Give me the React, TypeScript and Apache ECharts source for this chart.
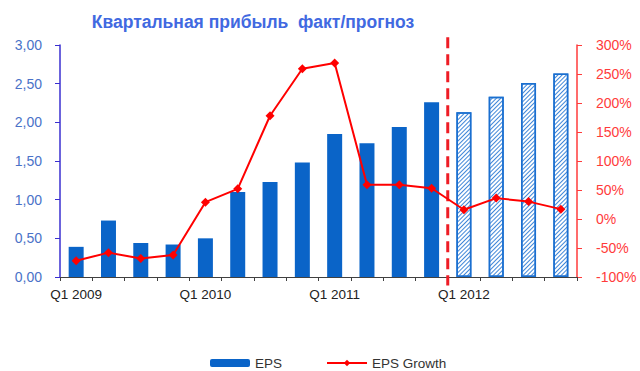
import React, { useEffect, useRef } from "react";
import * as echarts from "echarts";

const categories = [
  "Q1 2009", "Q2 2009", "Q3 2009", "Q4 2009",
  "Q1 2010", "Q2 2010", "Q3 2010", "Q4 2010",
  "Q1 2011", "Q2 2011", "Q3 2011", "Q4 2011",
  "Q1 2012", "Q2 2012", "Q3 2012", "Q4 2012",
];
const epsValues = [0.39, 0.73, 0.44, 0.42, 0.5, 1.1, 1.23, 1.48, 1.85, 1.73, 1.94, 2.26, 2.13, 2.33, 2.51, 2.63];
const epsGrowth = [-72, -58, -68, -62, 29, 52, 178, 259, 269, 59, 59, 53, 16, 36, 30, 17];
const isForecast = [false, false, false, false, false, false, false, false, false, false, false, false, true, true, true, true];
const forecastStart = 12; // index of first forecast quarter
const titleText = "Квартальная прибыль  факт/прогноз";

const FONT = "'Liberation Sans', Arial, sans-serif";

export default function App() {
  const ref = useRef<HTMLDivElement>(null);
  useEffect(() => {
    if (!ref.current) return;
    const chart = echarts.init(ref.current, null, { renderer: "svg" });
    const barData = epsValues.map((v, i) =>
      isForecast[i]
        ? {
            value: v,
            itemStyle: {
              color: "#ffffff",
              borderColor: "#1a6fd0",
              borderWidth: 1.5,
              decal: {
                symbol: "rect",
                symbolSize: 1,
                color: "#3f86d8",
                dashArrayX: [1, 0],
                dashArrayY: [1, 2],
                rotation: -Math.PI / 4,
              },
            },
          }
        : { value: v }
    );
    chart.setOption({
      animation: false,
      textStyle: { fontFamily: FONT },
      title: {
        text: titleText,
        left: 248,
        textAlign: "center",
        top: 8,
        textStyle: { color: "#4169e1", fontSize: 17.5, fontWeight: "bold", fontFamily: FONT },
      },
      grid: { left: 60, right: 63, top: 45, bottom: 94 },
      legend: {
        left: 205,
        top: 351,
        itemWidth: 40,
        itemHeight: 8,
        itemGap: 44,
        textStyle: { color: "#333", fontSize: 13.5, fontFamily: FONT },
        data: ["EPS", "EPS Growth"],
      },
      xAxis: [
        {
          type: "category",
          data: categories,
          axisLine: { lineStyle: { color: "#404040", width: 1 } },
          axisTick: { show: true, interval: 0, length: 4, lineStyle: { color: "#404040" } },
          axisLabel: { interval: 3, color: "#222", fontSize: 13.5, margin: 10, fontFamily: FONT },
        },
        {
          type: "value",
          min: 0,
          max: categories.length,
          show: false,
        },
      ],
      yAxis: [
        {
          type: "value",
          min: 0,
          max: 3,
          interval: 0.5,
          splitLine: { show: false },
          axisLine: { show: true, lineStyle: { color: "#3a2fd0", width: 1.5 } },
          axisTick: { show: true, length: 5, lineStyle: { color: "#3a2fd0" } },
          axisLabel: {
            color: "#4a72c8",
            fontSize: 14,
            margin: 18,
            fontFamily: FONT,
            formatter: (v: number) => v.toFixed(2).replace(".", ","),
          },
        },
        {
          type: "value",
          min: -100,
          max: 300,
          interval: 50,
          splitLine: { show: false },
          axisLine: { show: true, lineStyle: { color: "#ff3b3b", width: 1.5 } },
          axisTick: { show: true, length: 5, lineStyle: { color: "#ff3b3b" } },
          axisLabel: { color: "#ff3b3b", fontSize: 14, margin: 19, fontFamily: FONT, formatter: "{value}%" },
        },
      ],
      series: [
        {
          name: "EPS",
          type: "bar",
          data: barData,
          barWidth: 15,
          itemStyle: { color: "#0a64c8" },
        },
        {
          name: "EPS Growth",
          type: "line",
          yAxisIndex: 1,
          data: epsGrowth,
          color: "#ff0000",
          lineStyle: { color: "#ff0000", width: 2 },
          itemStyle: { color: "#ff0000" },
          symbol: "diamond",
          symbolSize: 9,
        },
        {
          name: "divider",
          type: "custom",
          xAxisIndex: 1,
          yAxisIndex: 0,
          silent: true,
          clip: false,
          data: [[forecastStart]],
          renderItem: (params: any, api: any) => {
            const x = api.value(0);
            const p1 = api.coord([x, 3.1]);
            const p2 = api.coord([x, -0.11]);
            return {
              type: "line",
              shape: { x1: p1[0], y1: p1[1], x2: p2[0], y2: p2[1] },
              style: { stroke: "#ee1c25", lineWidth: 3, lineDash: [11, 6] },
            };
          },
        },
      ],
    });
    return () => chart.dispose();
  }, []);
  return (
    <div
      ref={ref}
      style={{ position: "fixed", left: 0, top: 0, width: 640, height: 371, background: "#fff" }}
    />
  );
}
